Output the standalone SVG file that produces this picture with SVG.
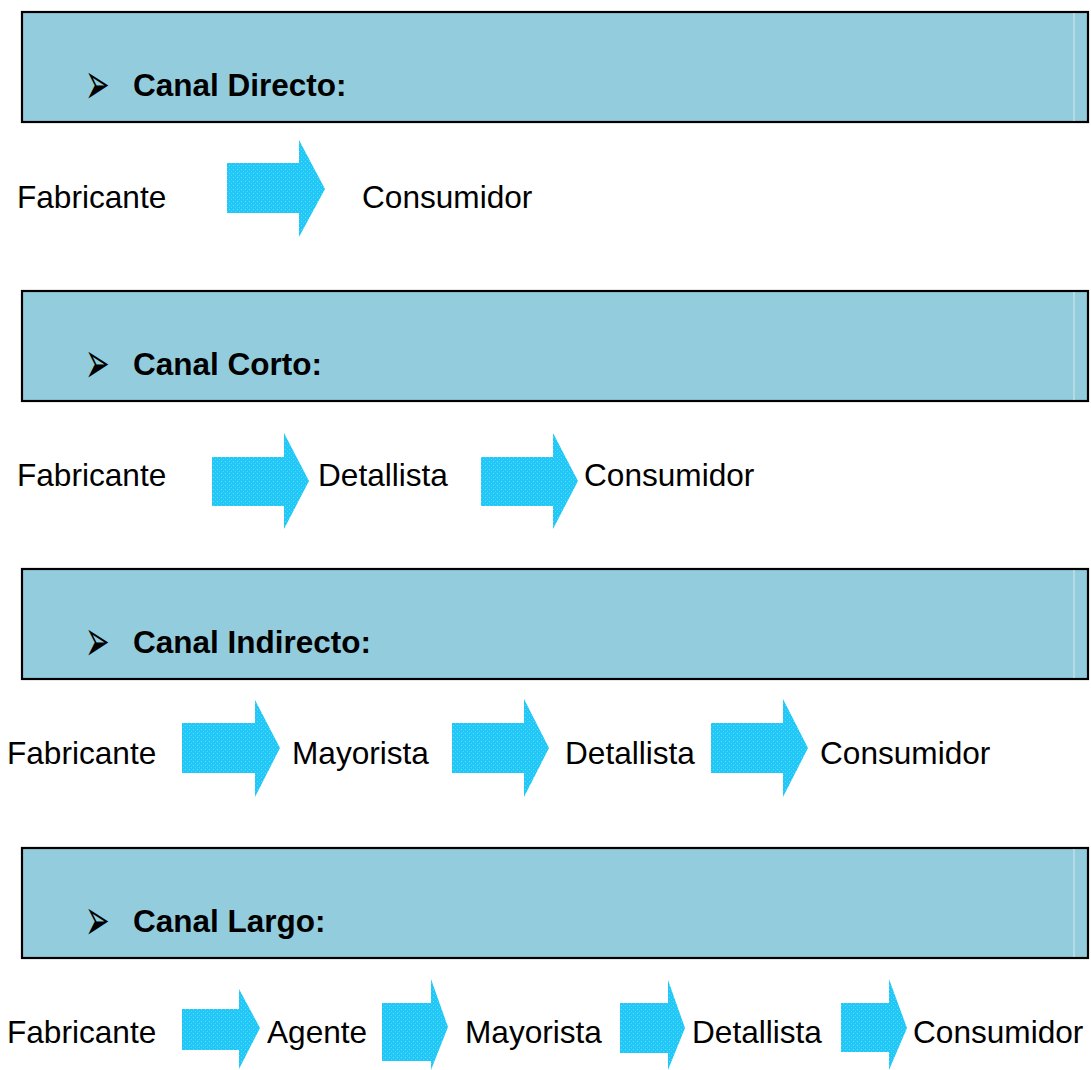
<svg xmlns="http://www.w3.org/2000/svg" width="1091" height="1070" viewBox="0 0 1091 1070">
  <style>
    .band { fill: #93CDDD; stroke: #000; stroke-width: 2.2; }
    .seam { stroke: #C9E4EC; stroke-width: 1.2; }
    .title { font-family: "Liberation Sans", Arial, sans-serif; font-weight: bold; font-size: 31.5px; fill: #000; }
    .bullet { font-family: "DejaVu Sans", sans-serif; font-size: 28px; fill: #000; }
    .label { font-family: "Liberation Sans", Arial, sans-serif; font-size: 31.6px; fill: #000; }
    .flow { fill: url(#dots); }
  </style>
  <defs>
    <!-- fine stipple used inside the block arrows -->
    <pattern id="dots" width="4" height="4" patternUnits="userSpaceOnUse">
      <rect width="4" height="4" fill="#1FC8F6"/>
      <rect x="1" y="1" width="1" height="1" fill="#6FD9F8"/>
      <rect x="3" y="3" width="1" height="1" fill="#55D2F7"/>
    </pattern>
  </defs>

  <!-- section headers -->
  <g id="header-directo">
    <rect class="band" x="22" y="12" width="1066" height="110"/>
    <line class="seam" x1="1074" y1="13" x2="1074" y2="121"/>
    <text class="bullet" transform="translate(85,104) scale(1.05,2.1)">➢</text>
    <text class="title" x="133" y="96">Canal Directo:</text>
  </g>
  <g id="header-corto">
    <rect class="band" x="22" y="291" width="1066" height="110"/>
    <line class="seam" x1="1074" y1="292" x2="1074" y2="400"/>
    <text class="bullet" transform="translate(85,383) scale(1.05,2.1)">➢</text>
    <text class="title" x="133" y="375">Canal Corto:</text>
  </g>
  <g id="header-indirecto">
    <rect class="band" x="22" y="569" width="1066" height="110"/>
    <line class="seam" x1="1074" y1="570" x2="1074" y2="678"/>
    <text class="bullet" transform="translate(85,661) scale(1.05,2.1)">➢</text>
    <text class="title" x="133" y="653">Canal Indirecto:</text>
  </g>
  <g id="header-largo">
    <rect class="band" x="22" y="848" width="1066" height="110"/>
    <line class="seam" x1="1074" y1="849" x2="1074" y2="957"/>
    <text class="bullet" transform="translate(85,940) scale(1.05,2.1)">➢</text>
    <text class="title" x="133" y="932">Canal Largo:</text>
  </g>

  <!-- channel members -->
  <g id="directo-fabricante"><text class="label" x="17" y="208">Fabricante</text></g>
  <g id="directo-consumidor"><text class="label" x="362" y="208">Consumidor</text></g>

  <g id="corto-fabricante"><text class="label" x="17" y="486">Fabricante</text></g>
  <g id="corto-detallista"><text class="label" x="318" y="486">Detallista</text></g>
  <g id="corto-consumidor"><text class="label" x="584" y="486">Consumidor</text></g>

  <g id="indirecto-fabricante"><text class="label" x="7" y="764">Fabricante</text></g>
  <g id="indirecto-mayorista"><text class="label" x="292" y="764">Mayorista</text></g>
  <g id="indirecto-detallista"><text class="label" x="565" y="764">Detallista</text></g>
  <g id="indirecto-consumidor"><text class="label" x="820" y="764">Consumidor</text></g>

  <g id="largo-fabricante"><text class="label" x="7" y="1043">Fabricante</text></g>
  <g id="largo-agente"><text class="label" x="267" y="1043">Agente</text></g>
  <g id="largo-mayorista"><text class="label" x="465" y="1043">Mayorista</text></g>
  <g id="largo-detallista"><text class="label" x="692" y="1043">Detallista</text></g>
  <g id="largo-consumidor"><text class="label" x="913" y="1043">Consumidor</text></g>

  <!-- block arrows between members -->
  <g id="connectors">
    <polygon class="flow" points="227,163 299,163 299,140 325,189 299,237 299,213 227,213"/>

    <polygon class="flow" points="212,457 284,457 284,433 309,481 284,529 284,506 212,506"/>
    <polygon class="flow" points="481,457 553,457 553,433 578,481 553,529 553,506 481,506"/>

    <polygon class="flow" points="182,723 255,723 255,700 280,748 255,797 255,773 182,773"/>
    <polygon class="flow" points="452,723 524,723 524,699 549,748 524,797 524,773 452,773"/>
    <polygon class="flow" points="711,723 783,723 783,699 808,748 783,797 783,773 711,773"/>

    <polygon class="flow" points="182,1009 239,1009 239,989 260,1028 239,1069 239,1050 182,1050"/>
    <polygon class="flow" points="382,1003 431,1003 431,979 448,1027 431,1070 431,1061 382,1061"/>
    <polygon class="flow" points="620,1003 668,1003 668,980 685,1028 668,1070 668,1053 620,1053"/>
    <polygon class="flow" points="841,1003 889,1003 889,979 907,1028 889,1070 889,1052 841,1052"/>
  </g>
</svg>
